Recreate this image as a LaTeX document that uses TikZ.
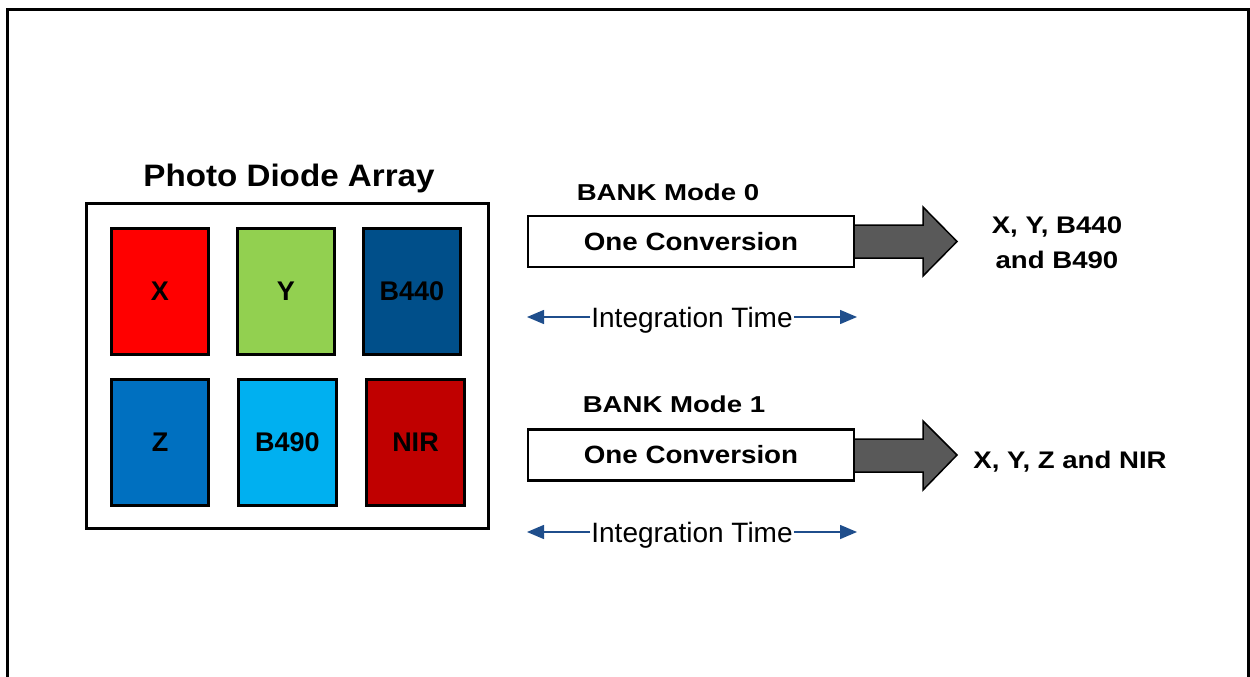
\documentclass[tikz,border=0pt]{standalone}
\usepackage{fontspec}
\setmainfont{Liberation Sans}
\usetikzlibrary{arrows.meta}
\definecolor{cX}{HTML}{FF0000}
\definecolor{cY}{HTML}{92D050}
\definecolor{cBf}{HTML}{004F8A}
\definecolor{cZ}{HTML}{0070C0}
\definecolor{cBn}{HTML}{00B0F0}
\definecolor{cNIR}{HTML}{C00000}
\definecolor{garr}{HTML}{595959}
\definecolor{itc}{HTML}{1F4E8C}
\begin{document}
\begin{tikzpicture}[x=1pt,y=-1pt,
  cell/.style={draw=black, line width=3pt, minimum width=97pt, minimum height=126pt, inner sep=0pt,
    font=\fontsize{27}{30}\selectfont\bfseries},
  pdbox/.style={draw=black, line width=3pt, minimum width=402pt, minimum height=325pt, inner sep=0pt},
  conv/.style={draw=black, line width=2.5pt, fill=white, minimum width=326pt, minimum height=51pt, inner sep=0pt,
    font=\fontsize{25}{30}\selectfont\bfseries\addfontfeature{FakeStretch=1.11}},
  title/.style={anchor=base, inner sep=0pt, font=\fontsize{31}{36}\selectfont\bfseries\addfontfeature{FakeStretch=1.07}},
  bank/.style={anchor=base, inner sep=0pt, font=\fontsize{23}{30}\selectfont\bfseries\addfontfeature{FakeStretch=1.2}},
  outlbl/.style={anchor=base, inner sep=0pt, align=center, font=\fontsize{24}{35}\selectfont\bfseries\addfontfeature{FakeStretch=1.15}},
  itime/.style={anchor=base, inner sep=1pt, font=\fontsize{28}{32}\selectfont},
  itarrow/.style={draw=itc, line width=1.5pt, -{Triangle[length=17pt,width=14pt]}},
  garrow/.style={fill=garr, draw=black, line width=1.5pt, line join=miter}
]
\useasboundingbox (0,0) rectangle (1250,677);
% outer frame
\draw[line width=3pt] (7.5,677) -- (7.5,9.5) -- (1248.5,9.5) -- (1248.5,677);

% photo diode array
\node[title] (pdt) at (289,186) {Photo Diode Array};
\node[pdbox] (pd) at (287.5,366) {};
\node[cell, fill=cX]   (x)    at (160,291.5) {X};
\node[cell, fill=cY]   (y)    at (286,291.5) {Y};
\node[cell, fill=cBf]  (b440) at (412,291.5) {B440};
\node[cell, fill=cZ]   (z)    at (160,442.5) {Z};
\node[cell, fill=cBn, minimum width=98pt]  (b490) at (287.5,442.5) {B490};
\node[cell, fill=cNIR, minimum width=98pt] (nir)  at (415.5,442.5) {NIR};

% bank mode 0
\node[bank] (bm0) at (668,200) {BANK Mode 0};
\path[garrow] (855,225) -- (923,225) -- (923,207) -- (957,241.5) -- (923,276) -- (923,258) -- (855,258);
\node[conv] (c0) at (691,241.5) {One Conversion};
\node[outlbl] (o0) at (1057,268) {X, Y, B440\\and B490};
\node[itime] (it0) at (692,327) {Integration Time};
\coordinate (it0l) at (527,317);
\coordinate (it0r) at (857,317);
\draw[itarrow] (it0.west |- it0l) -- (it0l);
\draw[itarrow] (it0.east |- it0r) -- (it0r);

% bank mode 1
\node[bank] (bm1) at (674,412) {BANK Mode 1};
\path[garrow] (855,439) -- (923,439) -- (923,421) -- (957,455) -- (923,490) -- (923,472) -- (855,472);
\node[conv] (c1) at (691,455) {One Conversion};
\node[outlbl] (o1) at (1070,468) {X, Y, Z and NIR};
\node[itime] (it1) at (692,542) {Integration Time};
\coordinate (it1l) at (527,532);
\coordinate (it1r) at (857,532);
\draw[itarrow] (it1.west |- it1l) -- (it1l);
\draw[itarrow] (it1.east |- it1r) -- (it1r);
\end{tikzpicture}
\end{document}
